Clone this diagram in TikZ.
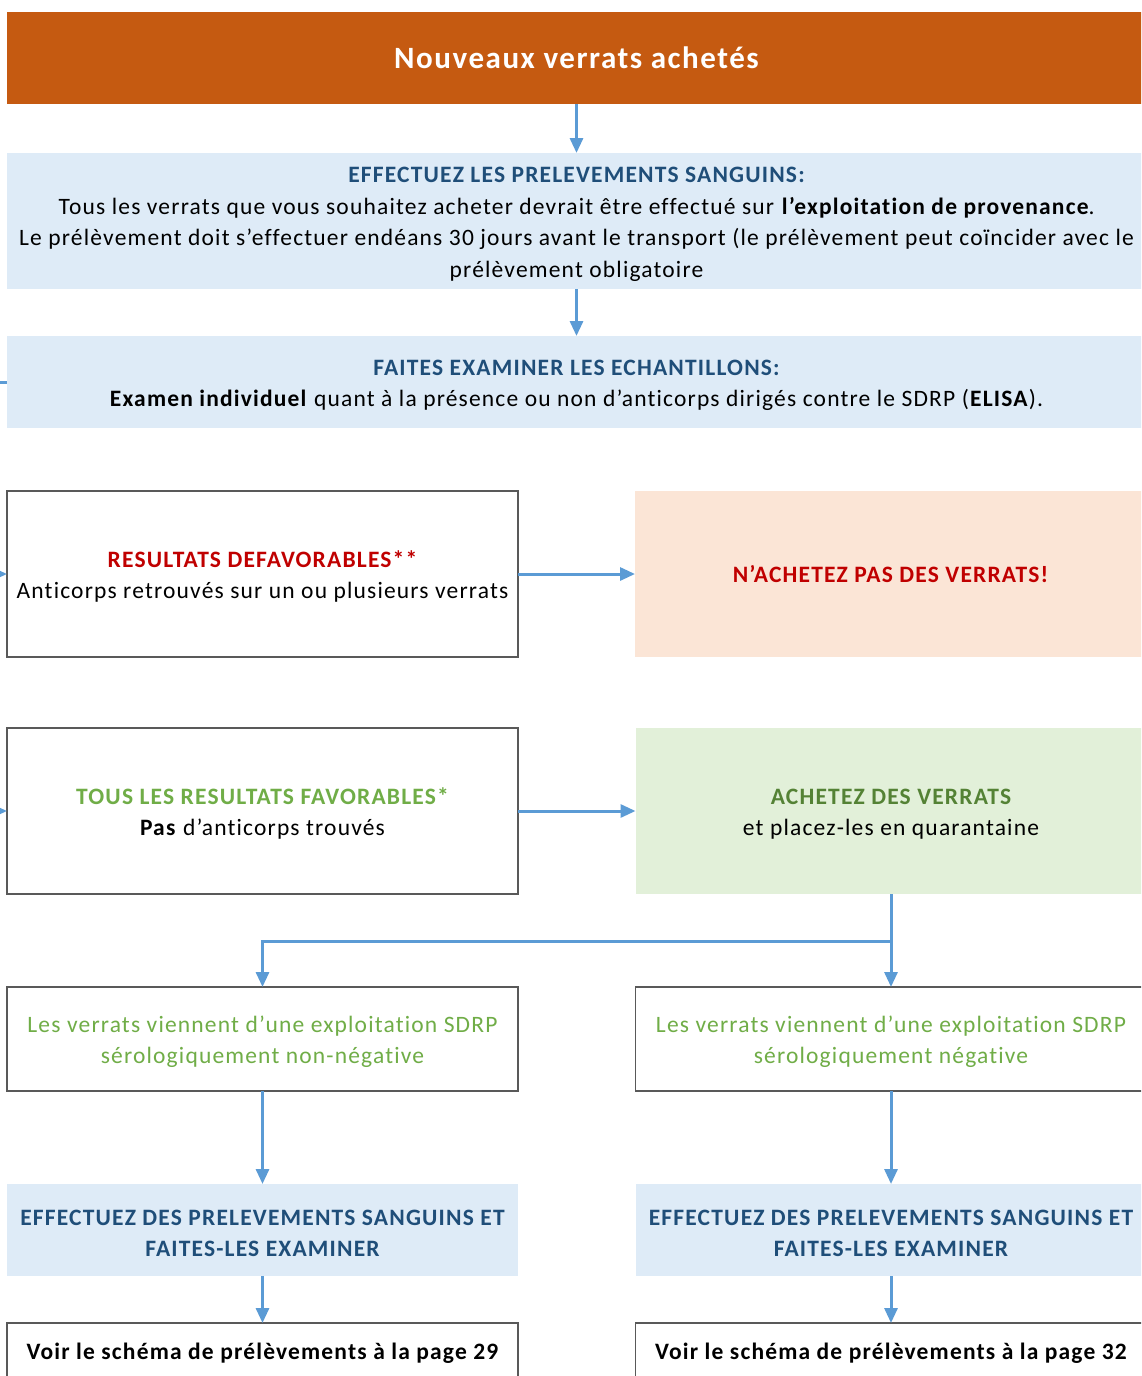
\documentclass[tikz,border=0pt]{standalone}
\usepackage{fontspec}
\setmainfont{Carlito}[LetterSpace=5, Ligatures=NoCommon]
\usetikzlibrary{arrows.meta}

\definecolor{headorange}{HTML}{C55A11}
\definecolor{paleblue}{HTML}{DEEBF7}
\definecolor{darkblue}{HTML}{1F4E79}
\definecolor{warnred}{HTML}{C00000}
\definecolor{peach}{HTML}{FBE5D6}
\definecolor{palegreen}{HTML}{E2F0D9}
\definecolor{okgreen}{HTML}{70AD47}
\definecolor{darkgreen}{HTML}{548235}
\definecolor{linkblue}{HTML}{5B9BD5}
\definecolor{edgegray}{HTML}{595959}

% a small strut at the top pushes each text block slightly lower in its box
\newcommand{\dropstrut}{\rule{0pt}{22pt}}

\tikzset{
  x=1pt, y=-1pt,
  every node/.style={inner sep=0pt, outer sep=0pt, align=center,
    font=\fontsize{23.5}{31.5}\selectfont},
  fullbox/.style={minimum width=1139pt},
  halfbox/.style={minimum width=511pt},
  header/.style={fill=headorange, text=white, minimum height=92pt,
    font=\fontsize{31}{36}\selectfont\bfseries},
  infobox/.style={fill=paleblue},
  framed/.style={draw=edgegray, line width=1.2pt, fill=white},
  stopbox/.style={fill=peach},
  buybox/.style={fill=palegreen},
  boldtext/.style={font=\fontsize{23.5}{31.5}\selectfont\bfseries},
  conn/.style={draw=linkblue, line width=3pt,
    -{Triangle[width=13pt,length=15pt]}},
  plainconn/.style={draw=linkblue, line width=3pt},
}

\begin{document}
\begin{tikzpicture}
\useasboundingbox (0,0) rectangle (1141,1376);
\clip (0,0) rectangle (1141,1376);
\fill[white] (0,0) rectangle (1141,1376);

% main sequence
\node[header, fullbox] (start) at (576.5,58) {Nouveaux verrats achetés};

\node[infobox, fullbox, minimum height=136pt] (sampling) at (576.5,221)
  {\dropstrut\textcolor{darkblue}{\bfseries EFFECTUEZ LES PRELEVEMENTS SANGUINS:}\\
   Tous les verrats que vous souhaitez acheter devrait être effectué sur \textbf{l’exploitation de provenance}.\\
   Le prélèvement doit s’effectuer endéans 30 jours avant le transport (le prélèvement peut coïncider avec le\\
   prélèvement obligatoire};

\node[infobox, fullbox, minimum height=92pt] (exam) at (576.5,382)
  {\dropstrut\textcolor{darkblue}{\bfseries FAITES EXAMINER LES ECHANTILLONS:}\\
   \textbf{Examen individuel} quant à la présence ou non d’anticorps dirigés contre le SDRP (\textbf{ELISA}).};

% results
\node[framed, halfbox, minimum height=166pt] (bad) at (262.5,574)
  {\dropstrut\textcolor{warnred}{\bfseries RESULTATS DEFAVORABLES**}\\
   Anticorps retrouvés sur un ou plusieurs verrats};

\node[stopbox, halfbox, minimum height=166pt] (nobuy) at (890.5,574)
  {\textcolor{warnred}{\bfseries N’ACHETEZ PAS DES VERRATS!}};

\node[framed, halfbox, minimum height=166pt] (good) at (262.5,811)
  {\dropstrut\textcolor{okgreen}{\bfseries TOUS LES RESULTATS FAVORABLES*}\\
   \textbf{Pas} d’anticorps trouvés};

\node[buybox, halfbox, minimum height=166pt] (buy) at (891,811)
  {\dropstrut\textcolor{darkgreen}{\bfseries ACHETEZ DES VERRATS}\\
   et placez-les en quarantaine};

% herd status
\node[framed, halfbox, minimum height=104pt, text=okgreen] (nonneg) at (262.5,1039)
  {\dropstrut Les verrats viennent d’une exploitation SDRP\\ sérologiquement non-négative};

\node[framed, halfbox, minimum height=104pt, text=okgreen] (neg) at (891,1039)
  {\dropstrut Les verrats viennent d’une exploitation SDRP\\ sérologiquement négative};

% follow-up sampling
\node[infobox, halfbox, minimum height=92pt, text=darkblue, boldtext]
  (sampleL) at (262.5,1230) {\dropstrut EFFECTUEZ DES PRELEVEMENTS SANGUINS ET\\ FAITES-LES EXAMINER};

\node[infobox, halfbox, minimum height=92pt, text=darkblue, boldtext]
  (sampleR) at (891,1230) {\dropstrut EFFECTUEZ DES PRELEVEMENTS SANGUINS ET\\ FAITES-LES EXAMINER};

\node[framed, halfbox, minimum height=61pt, boldtext]
  (refL) at (262.5,1353.5) {Voir le schéma de prélèvements à la page 29};

\node[framed, halfbox, minimum height=61pt, boldtext]
  (refR) at (891,1353.5) {Voir le schéma de prélèvements à la page 32};

% connectors
\draw[conn] (start) -- (sampling);
\draw[conn] (sampling) -- (exam);
\draw[conn] (bad) -- (nobuy);
\draw[conn] (good) -- (buy);
\coordinate (split) at (891,941);
\draw[conn] (buy) -- (neg);
\draw[conn] (split) -| (nonneg);
\draw[conn] (nonneg) -- (sampleL);
\draw[conn] (neg) -- (sampleR);
\draw[conn] (sampleL) -- (refL);
\draw[conn] (sampleR) -- (refR);

% incoming links from the left margin
\coordinate (feedA) at (-30,382);
\coordinate (feedB) at (-30,574);
\coordinate (feedC) at (-30,811);
\draw[plainconn] (feedA) -- (exam.west);
\draw[conn] (feedB) -- (bad.west);
\draw[conn] (feedC) -- (good.west);
\end{tikzpicture}
\end{document}
